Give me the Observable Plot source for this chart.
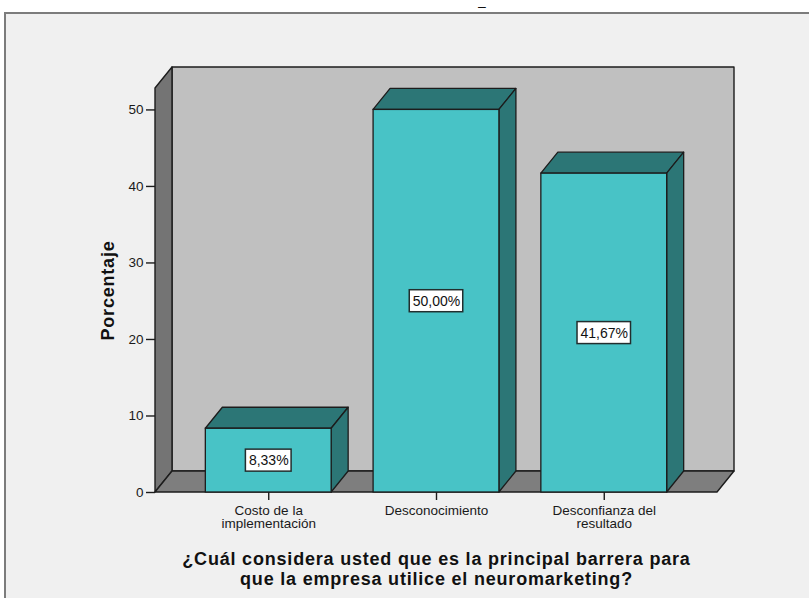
<!DOCTYPE html>
<html><head><meta charset="utf-8">
<script src="https://cdn.jsdelivr.net/npm/d3@7"></script>
<script src="https://cdn.jsdelivr.net/npm/@observablehq/plot@0.6"></script>
<style>
html,body{margin:0;padding:0;background:#fff;}
#wrap{position:relative;width:809px;height:598px;overflow:hidden;font-family:"Liberation Sans",Arial,sans-serif;}
#panel{position:absolute;left:4px;top:12px;width:830px;height:620px;background:#f0f0f0;border:2px solid #7c7c7c;box-sizing:border-box;}
#dash{position:absolute;left:462px;width:40px;text-align:center;top:0px;font-size:14px;line-height:12px;color:#111;}
#chart{position:absolute;left:0;top:0;}
</style></head><body>
<div id="wrap"><div id="panel"></div><div id="dash">–</div><div id="chart"></div></div>
<script>
const categories = ["Costo de la\nimplementación", "Desconocimiento", "Desconfianza del\nresultado"];
const percentages = [8.33, 50.00, 41.67];
const valueLabels = ["8,33%", "50,00%", "41,67%"];
const yTicks = [0, 10, 20, 30, 40, 50];
const yMax = 52.8;
const yTitle = "Porcentaje";
const xTitle = "¿Cuál considera usted que es la principal barrera para\nque la empresa utilice el neuromarketing?";

const data = categories.map((c, i) => ({category: c, value: percentages[i], label: valueLabels[i]}));

const DX = 17, DY = -21;
const PAD_IN = 0.25, PAD_OUT = 0.3;
const FONT = "'Liberation Sans', Arial, sans-serif";
const EDGE = "#1c1c1c";

function bandwidthOf(x) {
  const step = x(categories[1]) - x(categories[0]);
  return step * (1 - PAD_IN);
}

function room(index, {x, y}, values, dim) {
  const L = dim.marginLeft, R = dim.width - dim.marginRight;
  const B = y(0), T = y(yMax);
  const g = d3.create("svg:g").attr("stroke", EDGE).attr("stroke-width", 1.4).attr("stroke-linejoin", "round");
  g.append("rect").attr("x", L + DX).attr("y", T + DY).attr("width", R - L).attr("height", B - T).attr("fill", "#c0c0c0");
  g.append("path").attr("d", `M${L},${T}L${L + DX},${T + DY}L${L + DX},${B + DY}L${L},${B}Z`).attr("fill", "#747474");
  g.append("path").attr("d", `M${L},${B}L${L + DX},${B + DY}L${R + DX},${B + DY}L${R},${B}Z`).attr("fill", "#7e7e7e");
  return g.node();
}

function barDepth(index, {x, y}) {
  const bw = bandwidthOf(x);
  const g = d3.create("svg:g").attr("stroke", EDGE).attr("stroke-width", 1.3).attr("stroke-linejoin", "round").attr("fill", "#2c7676");
  for (const d of data) {
    const x0 = x(d.category), x1 = x0 + bw, yt = y(d.value), yb = y(0);
    g.append("path").attr("d", `M${x0},${yt}L${x0 + DX},${yt + DY}L${x1 + DX},${yt + DY}L${x1},${yt}Z`);
    g.append("path").attr("d", `M${x1},${yt}L${x1 + DX},${yt + DY}L${x1 + DX},${yb + DY}L${x1},${yb}Z`);
  }
  return g.node();
}

const ctx = document.createElement("canvas").getContext("2d");
ctx.font = `14px ${FONT}`;
function labelBoxes(index, {x, y}) {
  const bw = bandwidthOf(x);
  const g = d3.create("svg:g").attr("stroke", "#222e2e").attr("stroke-width", 1.5).attr("fill", "#fff");
  for (const d of data) {
    const w = ctx.measureText(d.label).width + 6, h = 22;
    const cx = x(d.category) + bw / 2, cy = y(d.value / 2);
    g.append("rect").attr("x", cx - w / 2).attr("y", cy - h / 2).attr("width", w).attr("height", h);
  }
  return g.node();
}

const plot = Plot.plot({
  width: 809,
  height: 598,
  marginLeft: 155,
  marginRight: 92,
  marginTop: 88,
  marginBottom: 106,
  style: {background: "transparent", fontFamily: FONT, color: "#1a1a1a", overflow: "visible"},
  x: {type: "band", domain: categories, paddingInner: PAD_IN, paddingOuter: PAD_OUT, round: false, label: null},
  y: {domain: [0, yMax], label: null},
  marks: [
    room,
    barDepth,
    Plot.barY(data, {x: "category", y: "value", fill: "#48c3c6", stroke: EDGE, strokeWidth: 1.3}),
    Plot.axisY({ticks: yTicks, tickSize: 9, tickPadding: 3, fontSize: 13.5, stroke: EDGE, strokeWidth: 1.4, fill: "#1a1a1a", label: null}),
    Plot.axisX({tickSize: 8, tickPadding: 5, fontSize: 13.5, lineHeight: 0.98, stroke: EDGE, strokeWidth: 1.4, fill: "#1a1a1a", label: null}),
    labelBoxes,
    Plot.text(data, {x: "category", y: d => d.value / 2, text: "label", fontSize: 14, fill: "#111"}),
    Plot.text([yTitle], {frameAnchor: "left", dx: -47, rotate: -90, textAnchor: "middle", fontSize: 18, fontWeight: "bold", fill: "#111"}),
    Plot.text([xTitle], {frameAnchor: "bottom", dy: 58, lineAnchor: "top", lineHeight: 1.11, fontSize: 18, fontWeight: "bold", fill: "#111"})
  ]
});
plot.querySelectorAll("text").forEach(t => {
  if (t.textContent.startsWith("¿") || t.textContent === yTitle) t.style.letterSpacing = "0.8px";
});
document.getElementById("chart").appendChild(plot);
</script>
</body></html>
